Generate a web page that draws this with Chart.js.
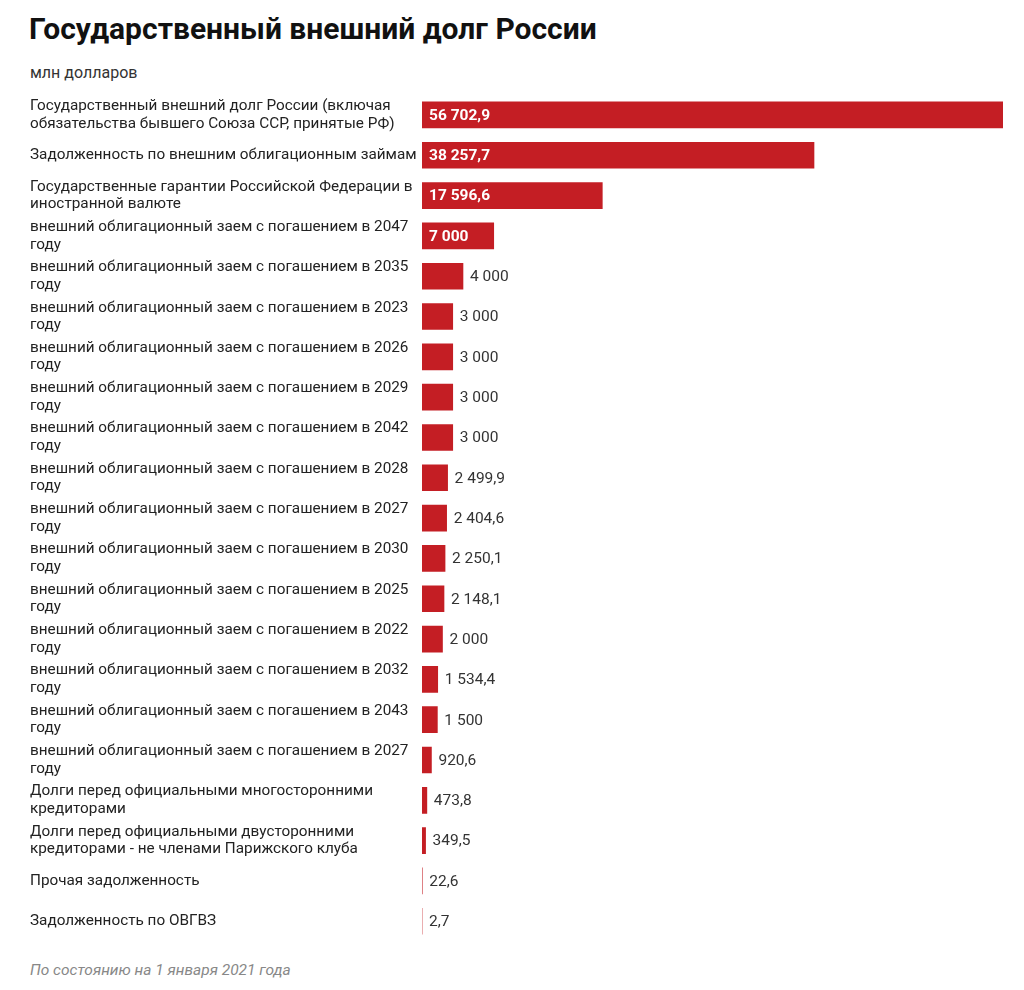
<!DOCTYPE html>
<html><head><meta charset="utf-8">
<script src="https://cdn.jsdelivr.net/npm/chart.js@4"></script>
<style>
body{margin:0;background:#fff;font-family:Roboto,"Noto Sans",sans-serif;color:#222;}
#title{position:absolute;left:29px;top:11px;font-size:30px;font-weight:bold;color:#111;}
#sub{position:absolute;left:30px;top:63px;font-size:16px;color:#333;}
#note{position:absolute;left:30px;top:961px;font-size:15.5px;font-style:italic;color:#888;}
#wrap{position:absolute;left:0;top:86px;width:1024px;height:873px;}
</style></head><body>
<div id="title">Государственный внешний долг России</div>
<div id="sub">млн долларов</div>
<div id="wrap"><canvas id="c"></canvas></div>
<div id="note">По состоянию на 1 января 2021 года</div>
<script>
const categories = [
  ["Государственный внешний долг России (включая","обязательства бывшего Союза ССР, принятые РФ)"],
  ["Задолженность по внешним облигационным займам"],
  ["Государственные гарантии Российской Федерации в","иностранной валюте"],
  ["внешний облигационный заем с погашением в 2047","году"],
  ["внешний облигационный заем с погашением в 2035","году"],
  ["внешний облигационный заем с погашением в 2023","году"],
  ["внешний облигационный заем с погашением в 2026","году"],
  ["внешний облигационный заем с погашением в 2029","году"],
  ["внешний облигационный заем с погашением в 2042","году"],
  ["внешний облигационный заем с погашением в 2028","году"],
  ["внешний облигационный заем с погашением в 2027","году"],
  ["внешний облигационный заем с погашением в 2030","году"],
  ["внешний облигационный заем с погашением в 2025","году"],
  ["внешний облигационный заем с погашением в 2022","году"],
  ["внешний облигационный заем с погашением в 2032","году"],
  ["внешний облигационный заем с погашением в 2043","году"],
  ["внешний облигационный заем с погашением в 2027","году"],
  ["Долги перед официальными многосторонними","кредиторами"],
  ["Долги перед официальными двусторонними","кредиторами - не членами Парижского клуба"],
  ["Прочая задолженность"],
  ["Задолженность по ОВГВЗ"]
];
const values = [56702.9, 38257.7, 17596.6, 7000, 4000, 3000, 3000, 3000, 3000, 2499.9, 2404.6, 2250.1, 2148.1, 2000, 1534.4, 1500, 920.6, 473.8, 349.5, 22.6, 2.7];

function fmt(v) {
  let s = Number.isInteger(v) ? String(v) : v.toFixed(1);
  let [i, d] = s.split(".");
  i = i.replace(/\B(?=(\d{3})+(?!\d))/g, " ");
  return d ? i + "," + d : i;
}

const valueLabels = {
  id: "valueLabels",
  afterDatasetsDraw(chart) {
    const ctx = chart.ctx;
    const meta = chart.getDatasetMeta(0);
    ctx.save();
    ctx.textBaseline = "middle";
    meta.data.forEach((bar, i) => {
      const v = values[i];
      if (v >= 7000) {
        ctx.font = "bold 15.5px Roboto";
        ctx.fillStyle = "#fff";
        ctx.fillText(fmt(v), bar.base + 7, bar.y + 1);
      } else {
        ctx.font = "15.5px Roboto";
        ctx.fillStyle = "#333";
        ctx.fillText(fmt(v), bar.x + 7, bar.y + 1);
      }
    });
    ctx.restore();
  }
};

new Chart(document.getElementById("c"), {
  type: "bar",
  data: {
    labels: categories,
    datasets: [{ data: values, backgroundColor: "#c41e24", barThickness: 26 }]
  },
  options: {
    indexAxis: "y",
    responsive: true,
    maintainAspectRatio: false,
    animation: false,
    layout: { padding: { left: 30, right: 21, top: 0, bottom: 0 } },
    plugins: { legend: { display: false }, tooltip: { enabled: false } },
    scales: {
      x: { display: false, min: 0, max: 56702.9 },
      y: {
        grid: { display: false },
        border: { display: false },
        afterFit(s) { s.width = 392; },
        ticks: {
          crossAlign: "far",
          padding: 0,
          color: "#222",
          font: { family: "Roboto", size: 15.3, lineHeight: 1.15 }
        }
      }
    }
  },
  plugins: [valueLabels]
});
</script>
</body></html>
